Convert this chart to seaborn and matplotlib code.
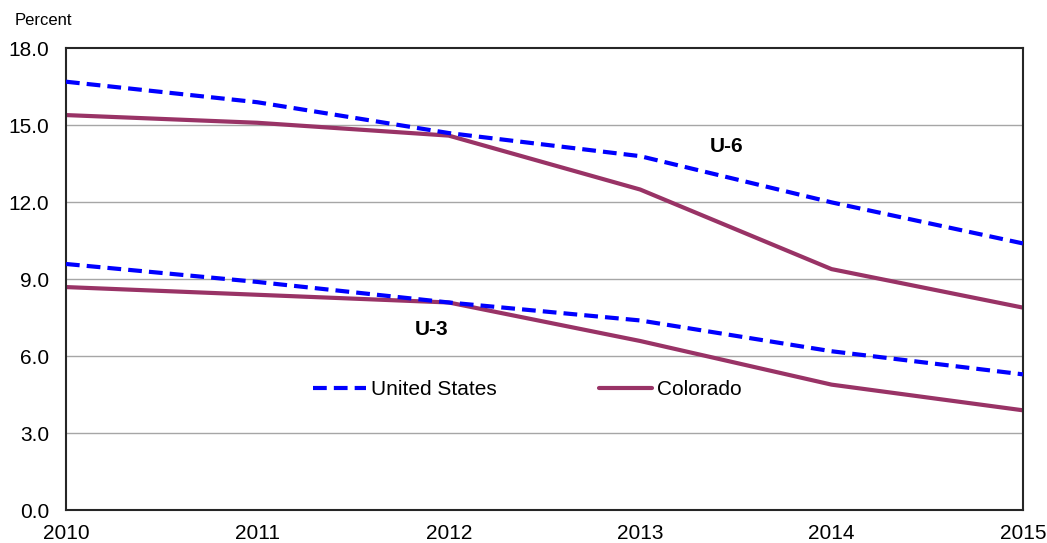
import numpy as np
import pandas as pd
import matplotlib
matplotlib.use("Agg")
import matplotlib.pyplot as plt
import seaborn as sns

years = [2010, 2011, 2012, 2013, 2014, 2015]
us_u6 = [16.7, 15.9, 14.7, 13.8, 12.0, 10.4]
co_u6 = [15.4, 15.1, 14.6, 12.5, 9.4, 7.9]
us_u3 = [9.6, 8.9, 8.1, 7.4, 6.2, 5.3]
co_u3 = [8.7, 8.4, 8.1, 6.6, 4.9, 3.9]

y_ticks = [0.0, 3.0, 6.0, 9.0, 12.0, 15.0, 18.0]

sns.set_style("white")
plt.rcParams['font.family'] = ['Liberation Sans', 'DejaVu Sans']
plt.rcParams['text.color'] = 'black'
plt.rcParams['xtick.color'] = 'black'
plt.rcParams['ytick.color'] = 'black'

blue = '#0000FF'
maroon = '#993366'

fig = plt.figure(figsize=(10.47, 5.43), dpi=100)
ax = fig.add_axes([0.063, 0.060, 0.914, 0.851])

# gridlines behind the data
for v in y_ticks[1:-1]:
    ax.axhline(v, color='#a6a6a6', lw=1.0, zorder=0)

sns.lineplot(x=years, y=us_u6, ax=ax, color=blue, lw=3,
             label='United States', zorder=3)
sns.lineplot(x=years, y=co_u6, ax=ax, color=maroon, lw=3,
             label='Colorado', zorder=2)
sns.lineplot(x=years, y=us_u3, ax=ax, color=blue, lw=3, zorder=3)
sns.lineplot(x=years, y=co_u3, ax=ax, color=maroon, lw=3, zorder=2)

# dashed style for United States lines
for line in ax.get_lines():
    if matplotlib.colors.to_hex(line.get_color()) == '#0000ff':
        line.set_dashes((3.3, 1.7))

ax.set_xlim(2010, 2015)
ax.set_ylim(0, 18)
ax.set_xticks(years)
ax.set_xticklabels([str(y) for y in years])
ax.set_yticks(y_ticks)
ax.set_yticklabels([f'{v:.1f}' for v in y_ticks])
ax.tick_params(axis='x', direction='in', length=6, width=1, color='#333333',
               labelcolor='black', labelsize=15, pad=10)
ax.tick_params(axis='y', length=0, labelcolor='black', labelsize=15, pad=12)

for s in ax.spines.values():
    s.set_color('#262626')
    s.set_linewidth(1.5)
    s.set_visible(True)

ax.set_xlabel('')
ax.set_ylabel('')

fig.text(0.014, 0.962, 'Percent', fontsize=12, color='black', ha='left', va='center')

ax.text(2013.45, 14.16, 'U-6', fontsize=15, fontweight='bold', color='black',
        ha='center', va='center')
ax.text(2011.91, 7.03, 'U-3', fontsize=15, fontweight='bold', color='black',
        ha='center', va='center')

handles, labels = ax.get_legend_handles_labels()
leg = ax.legend(handles[:2], labels[:2], loc='center', bbox_to_anchor=(0.482, 0.261),
                ncol=2, frameon=False, fontsize=15, handlelength=2.55,
                handletextpad=0.25, columnspacing=4.9, labelcolor='black')

fig.savefig('out.png', dpi=100)
